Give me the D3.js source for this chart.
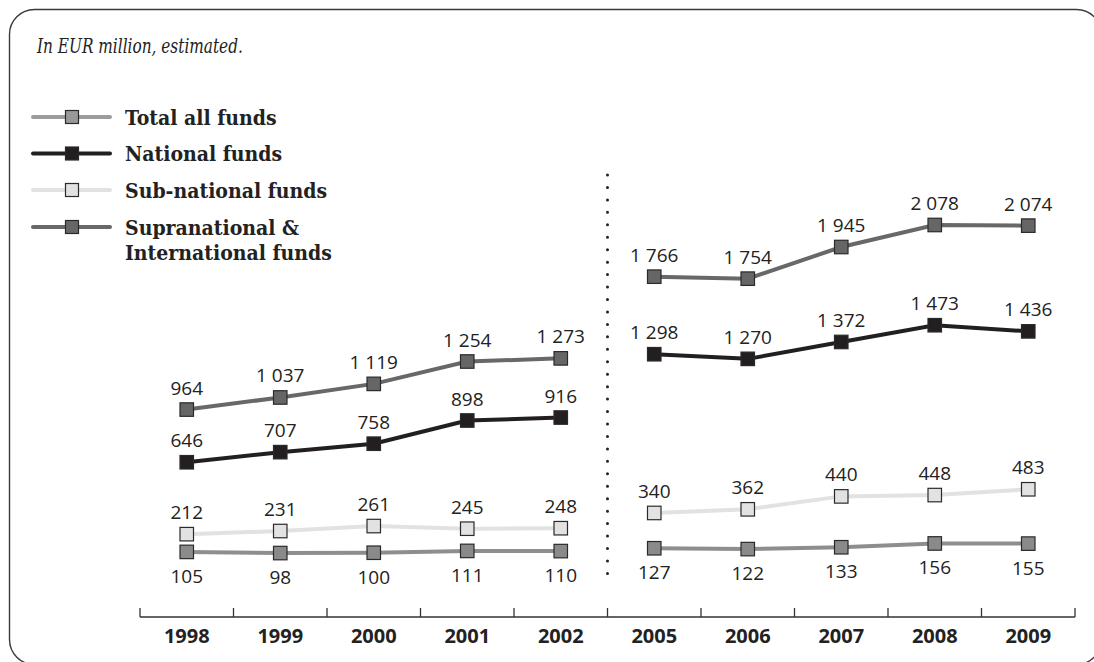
<!DOCTYPE html>
<html>
<head>
<meta charset="utf-8">
<script src="https://cdn.jsdelivr.net/npm/d3@7"></script>
<style>
  html, body { margin: 0; padding: 0; background: #fff; }
  svg { display: block; }
</style>
</head>
<body>
<svg id="chart" width="1094" height="662"></svg>
<script>
// ---- data ----
const years = ["1998", "1999", "2000", "2001", "2002", "2005", "2006", "2007", "2008", "2009"];
const totalAll = [964, 1037, 1119, 1254, 1273, 1766, 1754, 1945, 2078, 2074];
const nationalFunds = [646, 707, 758, 898, 916, 1298, 1270, 1372, 1473, 1436];
const subNationalFunds = [212, 231, 261, 245, 248, 340, 362, 440, 448, 483];
const supranationalFunds = [105, 98, 100, 111, 110, 127, 122, 133, 156, 155];
const legendLabels = ["Total all funds", "National funds", "Sub-national funds", ["Supranational &", "International funds"]];
const titleText = "In EUR million, estimated.";
const breakBefore = "2005";

const W = 1094, H = 662;
const svg = d3.select("#chart");

// frame
svg.append("rect")
  .attr("x", 9.5).attr("y", 9.5)
  .attr("width", 1092).attr("height", 655)
  .attr("rx", 25).attr("ry", 25)
  .attr("fill", "none").attr("stroke", "#3a3a3a").attr("stroke-width", 1.4);

// title (horizontally condensed to match the original's narrow italic)
const titleG = svg.append("g");
const title = titleG.append("text")
  .attr("x", 0).attr("y", 0)
  .attr("font-family", "'DejaVu Serif', serif")
  .attr("font-style", "italic")
  .attr("font-size", 21)
  .attr("fill", "#222")
  .text(titleText);
const natW = title.node().getComputedTextLength() || 300;
const sx = Math.min(1, 206 / natW);
titleG.attr("transform", `translate(37,53) scale(${sx},1)`);

// scales
const x = d3.scaleBand().domain(years).range([140, 1075]).padding(0);
const y = d3.scaleLinear().domain([0, 2100]).range([569.3, 569.3 - 2100 * 0.1657]);
const cx = d => x(d) + x.bandwidth() / 2;

// series (draw styles as in the picture)
const series = [
  { name: "supra", values: supranationalFunds, line: "#8e8e8e", fill: "#8a8a8a", below: true },
  { name: "sub", values: subNationalFunds, line: "#e2e2e2", fill: "#e2e2e2", below: false },
  { name: "national", values: nationalFunds, line: "#231f20", fill: "#231f20", below: false },
  { name: "total", values: totalAll, line: "#686868", fill: "#666666", below: false }
];

const fmt = v => d3.format(",")(v).replace(/,/g, " ");

const segments = [years.slice(0, years.indexOf(breakBefore)), years.slice(years.indexOf(breakBefore))];
const lineGen = d3.line().x(d => cx(d.year)).y(d => y(d.value));

series.forEach(s => {
  const pts = years.map((yr, i) => ({ year: yr, value: s.values[i] }));
  segments.forEach(seg => {
    const segPts = pts.filter(p => seg.includes(p.year));
    svg.append("path")
      .datum(segPts)
      .attr("d", lineGen)
      .attr("fill", "none")
      .attr("stroke", s.line)
      .attr("stroke-width", 4);
  });
  const ms = 13.5;
  svg.selectAll(null).data(pts).enter().append("rect")
    .attr("x", d => cx(d.year) - ms / 2)
    .attr("y", d => y(d.value) - ms / 2)
    .attr("width", ms).attr("height", ms)
    .attr("fill", s.fill)
    .attr("stroke", "#2a2a2a").attr("stroke-width", 1.2);
  svg.selectAll(null).data(pts).enter().append("text")
    .attr("x", d => cx(d.year))
    .attr("y", d => s.below ? y(d.value) + 31 : y(d.value) - 15)
    .attr("text-anchor", "middle")
    .attr("font-family", "'Open Sans', sans-serif")
    .attr("font-size", 19)
    .attr("fill", "#222")
    .text(d => fmt(d.value));
});

// dotted separator
const sepX = x(breakBefore);
svg.append("line")
  .attr("x1", sepX).attr("x2", sepX)
  .attr("y1", 175).attr("y2", 574)
  .attr("stroke", "#222").attr("stroke-width", 3)
  .attr("stroke-linecap", "round")
  .attr("stroke-dasharray", "0,12.45");

// x axis
const axisY = 617;
const axisG = svg.append("g");
axisG.append("line")
  .attr("x1", 140).attr("x2", 1075)
  .attr("y1", axisY).attr("y2", axisY)
  .attr("stroke", "#333").attr("stroke-width", 1.3);
const bounds = years.map(d => x(d)).concat([x(years[years.length - 1]) + x.bandwidth()]);
axisG.selectAll(null).data(bounds).enter().append("line")
  .attr("x1", d => d).attr("x2", d => d)
  .attr("y1", axisY - 9).attr("y2", axisY)
  .attr("stroke", "#333").attr("stroke-width", 1.3);
axisG.selectAll(null).data(years).enter().append("text")
  .attr("x", d => cx(d))
  .attr("y", 643)
  .attr("text-anchor", "middle")
  .attr("font-family", "'Open Sans', sans-serif")
  .attr("font-weight", "bold")
  .attr("font-size", 20)
  .attr("fill", "#222")
  .text(d => d);

// legend (styles as in picture)
const legendItems = [
  { label: legendLabels[0], line: "#9c9c9c", fill: "#999999", cy: 117 },
  { label: legendLabels[1], line: "#231f20", fill: "#231f20", cy: 153.5 },
  { label: legendLabels[2], line: "#e2e2e2", fill: "#e2e2e2", cy: 190 },
  { label: legendLabels[3], line: "#686868", fill: "#666666", cy: 227 }
];
const lg = svg.append("g");
legendItems.forEach(it => {
  lg.append("line")
    .attr("x1", 33).attr("x2", 110)
    .attr("y1", it.cy).attr("y2", it.cy)
    .attr("stroke", it.line).attr("stroke-width", 4)
    .attr("stroke-linecap", "round");
  lg.append("rect")
    .attr("x", 72 - 6.5).attr("y", it.cy - 6.5)
    .attr("width", 13).attr("height", 13)
    .attr("fill", it.fill)
    .attr("stroke", "#2a2a2a").attr("stroke-width", 1.2);
  const t = lg.append("text")
    .attr("x", 125).attr("y", it.cy + 7.5)
    .attr("font-family", "'DejaVu Serif', serif")
    .attr("font-weight", "bold")
    .attr("font-stretch", "condensed")
    .attr("font-size", 21)
    .attr("fill", "#222");
  const lines = Array.isArray(it.label) ? it.label : [it.label];
  lines.forEach((ln, i) => {
    t.append("tspan").attr("x", 125).attr("dy", i === 0 ? 0 : 25).text(ln);
  });
});
</script>
</body>
</html>
